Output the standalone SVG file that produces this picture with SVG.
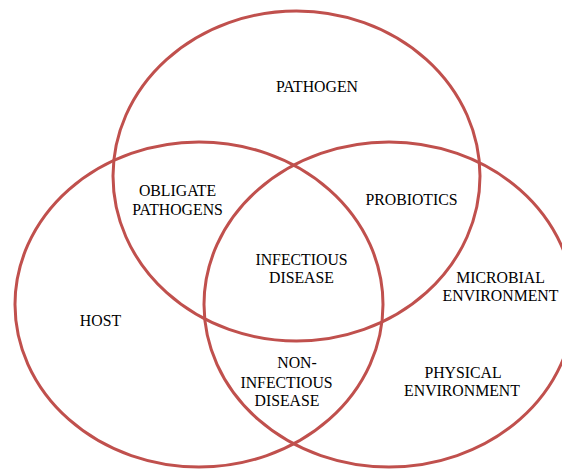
<svg xmlns="http://www.w3.org/2000/svg" width="562" height="470" viewBox="0 0 562 470">
<style>
.c{fill:none;stroke:#c0504d;stroke-width:3}
text{font-family:"Liberation Serif","Times New Roman",serif;font-size:15.8px;fill:#000;text-anchor:middle}
</style>
<rect width="562" height="470" fill="#fff"/>
<g id="connectors"></g>
<g id="pathogen"><ellipse class="c" cx="296.5" cy="176" rx="183.5" ry="165"/><text x="317" y="92">PATHOGEN</text></g>
<g id="host"><ellipse class="c" cx="199" cy="304.5" rx="184" ry="162.5"/><text x="100.5" y="326">HOST</text></g>
<g id="environment"><ellipse class="c" cx="389" cy="304.5" rx="185" ry="162.5"/></g>
<g id="obligate"><text x="177.5" y="196">OBLIGATE</text><text x="177.5" y="215">PATHOGENS</text></g>
<g id="probiotics"><text x="411.5" y="205">PROBIOTICS</text></g>
<g id="infectious"><text x="301.5" y="265">INFECTIOUS</text><text x="301.5" y="283">DISEASE</text></g>
<g id="noninfectious"><text x="297" y="368">NON-</text><text x="286.5" y="388">INFECTIOUS</text><text x="287" y="406">DISEASE</text></g>
<g id="microbial"><text x="500.5" y="283">MICROBIAL</text><text x="500.5" y="301">ENVIRONMENT</text></g>
<g id="physical"><text x="463" y="378">PHYSICAL</text><text x="462" y="396">ENVIRONMENT</text></g>
</svg>
